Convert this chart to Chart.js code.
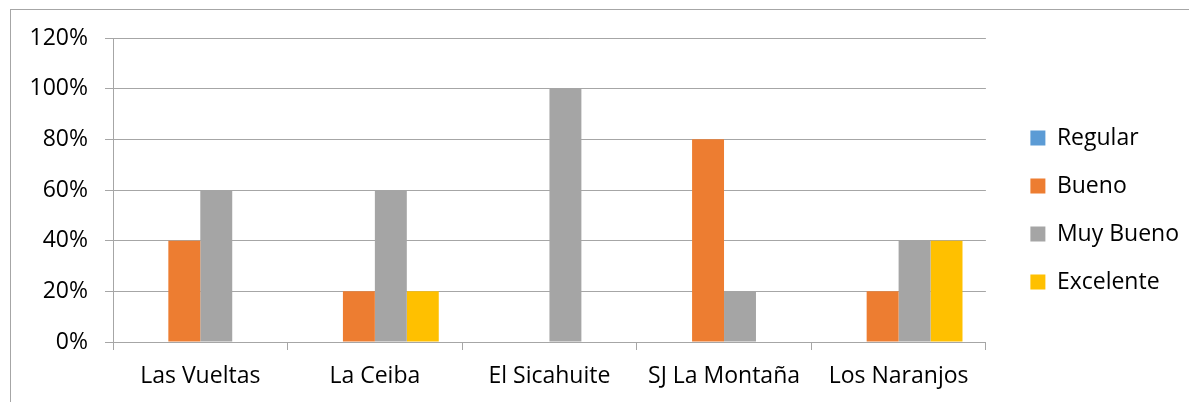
<!DOCTYPE html>
<html>
<head>
<meta charset="utf-8">
<script src="https://cdn.jsdelivr.net/npm/chart.js@4"></script>
<style>
  html, body { margin: 0; padding: 0; background: #fff; overflow: hidden; }
  #frame { position: absolute; left: 10px; top: 9px; width: 1400px; height: 600px; border: 1px solid #a6a6a6; }
  #wrap { position: absolute; left: 0; top: 0; width: 1189px; height: 402px; }
</style>
</head>
<body>
<div id="frame"></div>
<div id="wrap"><canvas id="barChart" width="1189" height="402"></canvas></div>
<script>
const categories = ['Las Vueltas', 'La Ceiba', 'El Sicahuite', 'SJ La Montaña', 'Los Naranjos'];
const regular = [0, 0, 0, 0, 0];
const bueno = [40, 20, 0, 80, 20];
const muyBueno = [60, 60, 100, 20, 40];
const excelente = [0, 20, 0, 0, 40];
const yTicks = [0, 20, 40, 60, 80, 100, 120];

const gridColor = '#a6a6a6';
const fontFamily = '"Open Sans", Lato, sans-serif';

// empty axes used only as spacers (top of plot, between plot and legend)
const spacer = (size) => ({
  display: true,
  grid: { display: false },
  border: { display: false },
  ticks: { display: false },
  afterFit: (s) => { if (s.isHorizontal()) s.height = size; else s.width = size; },
});

const ctx = document.getElementById('barChart').getContext('2d');
new Chart(ctx, {
  type: 'bar',
  data: {
    labels: categories,
    datasets: [
      { label: 'Regular', data: regular, backgroundColor: '#5b9bd5' },
      { label: 'Bueno', data: bueno, backgroundColor: '#ed7d31' },
      { label: 'Muy Bueno', data: muyBueno, backgroundColor: '#a5a5a5' },
      { label: 'Excelente', data: excelente, backgroundColor: '#ffc000' },
    ],
  },
  options: {
    responsive: false,
    animation: false,
    datasets: {
      bar: { categoryPercentage: 0.732, barPercentage: 1.0 },
    },
    layout: { padding: { top: 18, bottom: 0, left: 0, right: 0 } },
    scales: {
      x: {
        grid: { drawOnChartArea: false, color: gridColor, tickLength: 8 },
        border: { color: gridColor },
        ticks: { color: '#000', font: { family: fontFamily, size: 23 }, padding: 13 },
        afterFit: (s) => { s.height = 60; },
      },
      x2: Object.assign({ type: 'category', position: 'top' }, spacer(20)),
      y: {
        min: 0,
        max: 120,
        afterBuildTicks: (s) => { s.ticks = yTicks.map(v => ({ value: v })); },
        grid: { color: gridColor, tickLength: 8 },
        border: { color: gridColor },
        ticks: {
          color: '#000',
          font: { family: fontFamily, size: 23 },
          padding: 17,
          callback: (v) => v + '%',
        },
        afterFit: (s) => { s.width = 113; },
      },
      y2: Object.assign({ position: 'right' }, spacer(19.5)),
    },
    plugins: {
      legend: {
        position: 'right',
        labels: {
          boxWidth: 15,
          boxHeight: 15,
          padding: 25,
          color: '#000',
          font: { family: fontFamily, size: 23 },
        },
      },
      tooltip: { enabled: false },
    },
  },
});
</script>
</body>
</html>
